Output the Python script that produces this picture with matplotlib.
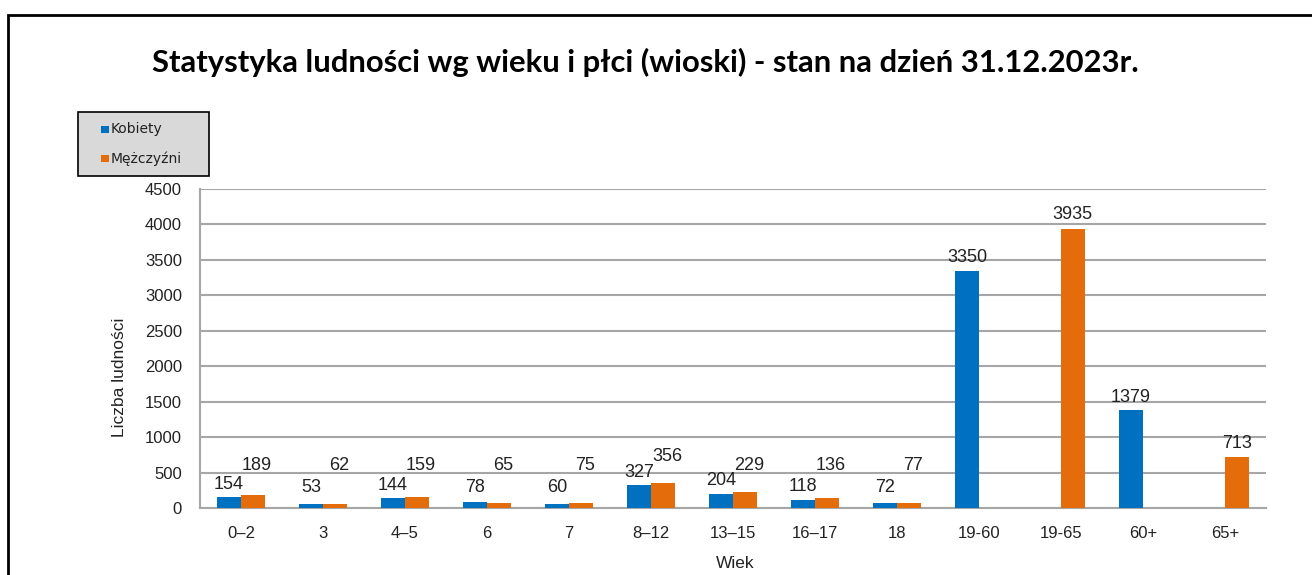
import matplotlib
matplotlib.use("Agg")
import matplotlib.pyplot as plt
from matplotlib.patches import Rectangle
import numpy as np

categories = ["0–2", "3", "4–5", "6", "7", "8–12", "13–15", "16–17", "18",
              "19-60", "19-65", "60+", "65+"]
kobiety = [154, 53, 144, 78, 60, 327, 204, 118, 72, 3350, 0, 1379, 0]
mezczyzni = [189, 62, 159, 65, 75, 356, 229, 136, 77, 0, 3935, 0, 713]
yticks = [0, 500, 1000, 1500, 2000, 2500, 3000, 3500, 4000, 4500]
series_names = ["Kobiety", "Mężczyźni"]

BLUE = "#0070C0"
ORANGE = "#E46C0A"
GRID = "#A6A6A6"
plt.rcParams["font.family"] = ["Liberation Sans", "DejaVu Sans"]

W, H = 1312, 575
fig = plt.figure(figsize=(W / 100, H / 100), dpi=100)
ax = fig.add_axes([200 / W, 1 - 508 / H, 1066 / W, 319 / H])

# frame around the chart area (runs off the right and bottom edges)
fig.patches.append(Rectangle((8 / W, -0.5), 2.0, 0.5 + 1 - 15 / H,
                             transform=fig.transFigure, fill=False,
                             edgecolor="black", linewidth=2))

x = np.arange(len(categories))
w = 0.29
ax.bar(x - w / 2, kobiety, w, color=BLUE, zorder=3)
ax.bar(x + w / 2, mezczyzni, w, color=ORANGE, zorder=3)

# data labels
for i, (k, m) in enumerate(zip(kobiety, mezczyzni)):
    if k > 0:
        ax.text(x[i] - w / 2, max(k + 180, 296), str(k), ha="center",
                va="center", fontsize=13, color="#222222")
    if m > 0:
        if k > 0:
            ym = max(m + 367, 606)
        else:
            ym = m + 200
        ax.text(x[i] + w / 2 + (0.05 if k > 0 else 0), ym, str(m),
                ha="center", va="center", fontsize=13, color="#222222")

ax.set_xlim(-0.5, len(categories) - 0.5)
ax.set_ylim(0, 4500)
ax.set_yticks(yticks)
ax.set_xticks(x)
ax.set_xticklabels(categories)
ax.tick_params(axis="both", length=0, labelsize=12, colors="#222222")
ax.tick_params(axis="x", pad=13)
ax.tick_params(axis="y", pad=13)
ax.yaxis.grid(True, color=GRID, linewidth=1.5, zorder=0)
ax.set_axisbelow(True)
for s in ["top", "right"]:
    ax.spines[s].set_visible(False)
for s in ["left", "bottom"]:
    ax.spines[s].set_color(GRID)
    ax.spines[s].set_linewidth(1.5)

ax.set_ylabel("Liczba ludności", fontsize=12.5, color="#222222")
ax.yaxis.set_label_coords(-0.0685, 0.41)
ax.set_xlabel("Wiek", fontsize=12.5, color="#222222", va="center")
ax.xaxis.set_label_coords(0.502, -0.173)

fig.text(645 / W, 1 - 62 / H,
         "Statystyka ludności wg wieku i płci (wioski) - stan na dzień 31.12.2023r.",
         ha="center", va="center", fontsize=22.3, fontweight="bold",
         family=["Lato", "DejaVu Sans"])

# legend box drawn by hand
fig.patches.append(Rectangle((78 / W, 1 - 176 / H), 131 / W, 64 / H,
                             transform=fig.transFigure, facecolor="#D9D9D9",
                             edgecolor="black", linewidth=1.2))
for name, col, yc in zip(series_names, [BLUE, ORANGE], [129, 159]):
    fig.patches.append(Rectangle((101 / W, 1 - (yc + 3.5) / H), 8 / W, 7 / H,
                                 transform=fig.transFigure, facecolor=col,
                                 edgecolor="none"))
    fig.text(111 / W, 1 - yc / H, name, ha="left", va="center",
             fontsize=10, color="#222222", family=["DejaVu Sans"])

fig.savefig("out.png", dpi=100)
